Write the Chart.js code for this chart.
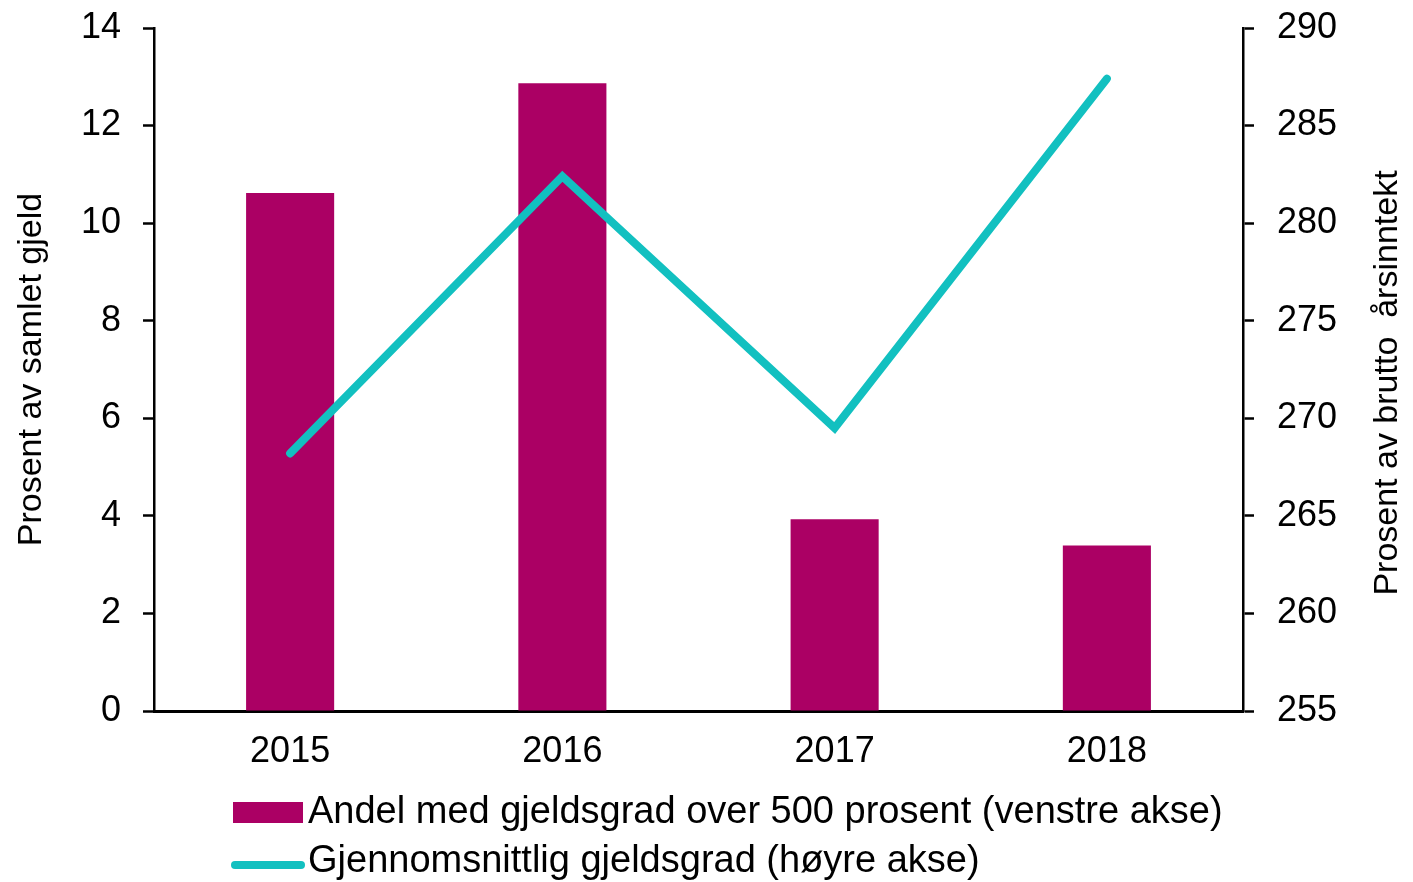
<!DOCTYPE html>
<html>
<head>
<meta charset="utf-8">
<script src="https://cdn.jsdelivr.net/npm/chart.js@4"></script>
<style>
  body { margin: 0; background: #fff; }
  #wrap { position: relative; width: 1413px; height: 882px; }
  .legend-text { position: absolute; font-family: "Liberation Sans", Arial, sans-serif; font-size: 38px; line-height: 38px; color: #000; white-space: nowrap; }
  .swatch { position: absolute; }
</style>
</head>
<body>
<div id="wrap">
  <canvas id="chart"></canvas>
  <div class="swatch" style="left:233px;top:802px;width:70px;height:21px;background:#AB0064;"></div>
  <div class="legend-text" style="left:308px;top:791px;">Andel med gjeldsgrad over 500 prosent (venstre akse)</div>
  <div class="swatch" style="left:231px;top:861px;width:74px;height:8px;border-radius:4px;background:#12C0C0;"></div>
  <div class="legend-text" style="left:308px;top:840px;">Gjennomsnittlig gjeldsgrad (høyre akse)</div>
</div>
<script>
var years = ["2015", "2016", "2017", "2018"];
var shareOver500 = [10.62, 12.87, 3.93, 3.39];
var avgDebtRatio = [268.2, 282.4, 269.5, 287.4];

var barColor = "#AB0064";
var lineColor = "#12C0C0";
var font = "'Liberation Sans', Arial, sans-serif";

// right axis title reads bottom-to-top, so draw it ourselves
var rightTitle = {
  id: "rightTitle",
  afterDraw: function (chart) {
    var ctx = chart.ctx;
    ctx.save();
    ctx.translate(1388, 383);
    ctx.rotate(-Math.PI / 2);
    ctx.font = "34px " + font;
    ctx.fillStyle = "#000";
    ctx.textAlign = "center";
    ctx.textBaseline = "middle";
    ctx.fillText("Prosent av brutto  årsinntekt", 0, 0);
    ctx.restore();
  },
};

function fixWidth(w) {
  return function (scale) {
    scale.width = w;
    scale.paddingTop = 0;
    scale.paddingBottom = 0;
  };
}

var ctx = document.getElementById("chart").getContext("2d");
var chart = new Chart(ctx, {
  type: "bar",
  data: {
    labels: years,
    datasets: [
      {
        type: "line",
        label: "Gjennomsnittlig gjeldsgrad (høyre akse)",
        data: avgDebtRatio,
        yAxisID: "y1",
        borderColor: lineColor,
        borderWidth: 8,
        borderCapStyle: "round",
        borderJoinStyle: "miter",
        pointRadius: 0,
        tension: 0,
        order: 0,
      },
      {
        label: "Andel med gjeldsgrad over 500 prosent (venstre akse)",
        data: shareOver500,
        yAxisID: "y",
        backgroundColor: barColor,
        borderWidth: 0,
        barPercentage: 0.3235,
        categoryPercentage: 1,
        order: 1,
      },
    ],
  },
  options: {
    responsive: true,
    maintainAspectRatio: false,
    animation: false,
    layout: { padding: { top: 28, left: 0, right: 0, bottom: 0 } },
    plugins: {
      legend: { display: false },
      tooltip: { enabled: false },
    },
    scales: {
      x: {
        grid: { display: true, drawOnChartArea: false, drawTicks: false },
        border: { color: "#000", width: 3 },
        ticks: { color: "#000", font: { family: font, size: 36 }, padding: 19 },
        afterFit: function (scale) {
          scale.height = 171;
        },
      },
      y: {
        position: "left",
        min: 0,
        max: 14,
        ticks: { stepSize: 2, color: "#000", font: { family: font, size: 36 }, padding: 22 },
        grid: { drawOnChartArea: false, drawTicks: true, tickLength: 11, tickColor: "#000", tickWidth: 2.5 },
        border: { color: "#000", width: 2.5 },
        title: {
          display: true,
          text: "Prosent av samlet gjeld",
          color: "#000",
          font: { family: font, size: 34 },
          padding: { top: 11, bottom: 0 },
        },
        afterFit: fixWidth(154),
      },
      y1: {
        position: "right",
        min: 255,
        max: 290,
        ticks: { stepSize: 5, color: "#000", font: { family: font, size: 36 }, padding: 23 },
        grid: { drawOnChartArea: false, drawTicks: true, tickLength: 11, tickColor: "#000", tickWidth: 2.5 },
        border: { color: "#000", width: 2.5 },
        afterFit: fixWidth(170),
      },
    },
  },
  plugins: [rightTitle],
});
</script>
</body>
</html>
